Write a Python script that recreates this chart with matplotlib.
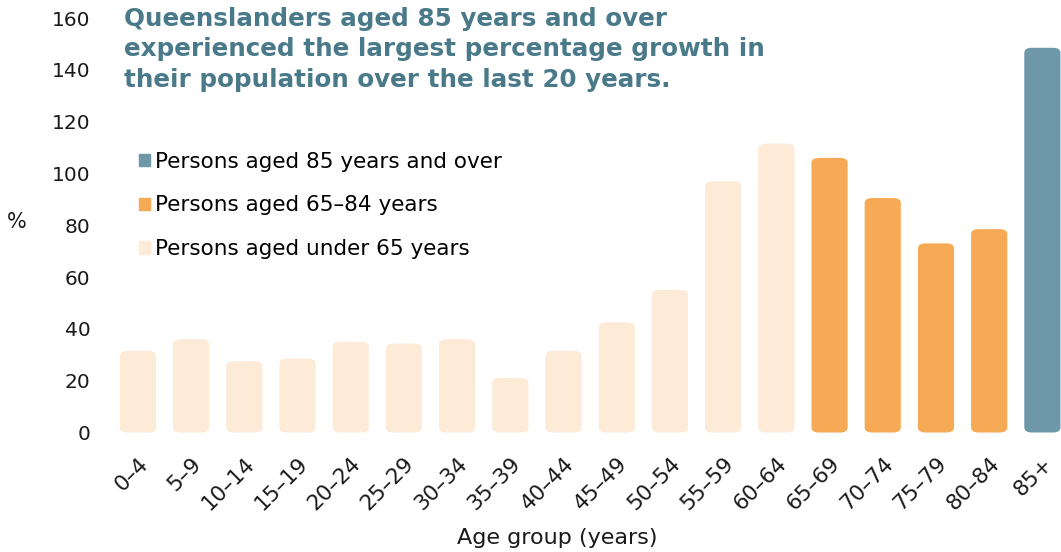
import matplotlib

matplotlib.use("Agg")

import matplotlib.pyplot as plt
from matplotlib.patches import FancyBboxPatch, Patch

# percentage growth in population by age group, last 20 years
age_groups = ["0–4", "5–9", "10–14", "15–19", "20–24", "25–29", "30–34", "35–39", "40–44",
              "45–49", "50–54", "55–59", "60–64", "65–69", "70–74", "75–79", "80–84", "85+"]
growth = [31.5, 36, 27.5, 28.5, 35, 34.3, 36, 21, 31.5,
          42.5, 55, 97, 111.5, 106, 90.5, 73, 78.5, 148.5]
group = ["under"] * 13 + ["mid"] * 4 + ["old"]

colors = {"old": "#6E98A8", "mid": "#F7AA55", "under": "#FDEAD7"}
legend_labels = [("old", "Persons aged 85 years and over"),
                 ("mid", "Persons aged 65–84 years"),
                 ("under", "Persons aged under 65 years")]
title_lines = ["Queenslanders aged 85 years and over",
               "experienced the largest percentage growth in",
               "their population over the last 20 years."]

plt.rcParams["font.family"] = ["DejaVu Sans"]

fig = plt.figure(figsize=(10.61, 5.52), dpi=100)
ax = fig.add_axes([106 / 1061, 119.5 / 552, 1 - 106 / 1061, 414.5 / 552])

x = list(range(len(age_groups)))
bars = ax.bar(x, growth, width=0.68, color=[colors[g] for g in group])

# swap the flat bars for ones with softly rounded corners
for b in list(bars):
    bx, by = b.get_x(), b.get_y()
    bw, bh = b.get_width(), b.get_height()
    fc = b.get_facecolor()
    b.remove()
    ax.add_patch(FancyBboxPatch((bx, by), bw, bh,
                                boxstyle="round,pad=0,rounding_size=0.14",
                                mutation_aspect=14, fc=fc, ec="none"))

ax.set_xlim(-0.6, 17.35)
ax.set_ylim(0, 160)
ax.set_yticks(range(0, 161, 20))
ax.set_xticks(x)
ax.set_xticklabels(age_groups, rotation=45, ha="right", rotation_mode="anchor")
ax.tick_params(axis="both", length=0, colors="#1a1a1a")
ax.tick_params(axis="y", pad=11, labelsize=14.5)
ax.tick_params(axis="x", pad=15, labelsize=15.5)
for s in ax.spines.values():
    s.set_visible(False)

fig.text(17 / 1061, 1 - 222 / 552, "%", fontsize=15, ha="center", va="center", color="#1a1a1a")
fig.text(557 / 1061, 1 - 538 / 552, "Age group (years)", fontsize=16, ha="center", va="center",
         color="#1a1a1a")

fig.text(124 / 1061, 1 - 7 / 552, "\n".join(title_lines),
         fontsize=17.7, fontweight="bold", color="#4A7A8A", ha="left", va="top", linespacing=1.33)

handles = [Patch(color=colors[k]) for k, _ in legend_labels]
ax.legend(handles, [lbl for _, lbl in legend_labels], loc="upper left",
          bbox_to_anchor=(128 / 1061, 1 - 141 / 552), bbox_transform=fig.transFigure,
          frameon=False, fontsize=15.5, handlelength=0.5, handleheight=0.5,
          handletextpad=0.25, labelspacing=1.1, borderpad=0)

fig.savefig("out.png", dpi=100)
